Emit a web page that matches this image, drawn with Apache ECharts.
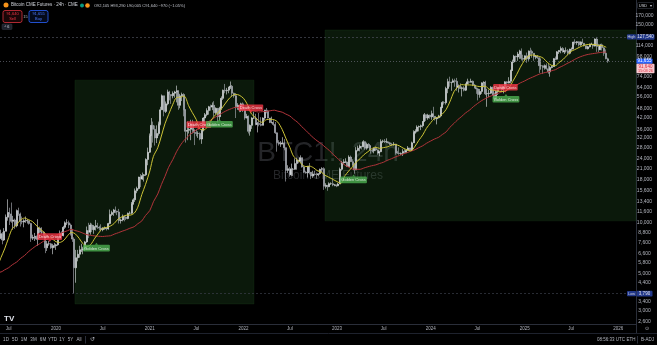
<!DOCTYPE html>
<html><head><meta charset="utf-8">
<script src="https://cdn.jsdelivr.net/npm/echarts@6/dist/echarts.min.js"></script>
<style>html,body{margin:0;padding:0;background:#000;}#c{width:657px;height:345px;}</style>
</head><body><div id="c"></div>
<script>
// ---------- DATA ----------
// weekly bars (week starting Monday 2019-05-27, one entry per week)
const firstWeek = [2019, 4, 27];
const firstOpen = 8100;
const weeklyClose = [
// 2019
8600,7900,8900,10800,11500,11300,10200,10400,9600,11800,11300,10200,10100,10300,10300,10300,9900,8100,8200,8300,8000,9300,8800,8800,8400,7100,7500,7500,7100,7300,7300,7400,
// 2020
8100,8700,8400,9400,10000,10000,9700,8600,8000,5400,6200,6500,6900,6900,7000,7700,9000,8800,9700,9100,9500,9600,9400,9300,9100,9300,9300,9200,9900,11200,11500,11900,11700,11600,10300,10400,10900,10800,10600,11400,11400,13000,13700,15500,16000,18700,18200,19100,19300,23800,26300,33000,
// 2021
38000,36000,32000,34000,38900,47000,57000,46000,51000,60000,58000,57000,59000,60000,61000,50000,57000,58000,47000,35000,35500,36000,39000,35500,34500,34000,34000,31500,35500,42000,44000,46500,49000,48900,50000,45200,48000,42800,48000,55000,61500,61000,61500,64000,65000,59000,57000,49000,50000,47000,51000,47000,
// 2022
42000,43000,35000,38000,42000,42000,38500,39000,38500,38000,42000,46800,46300,42000,39500,39500,38500,34300,30000,29500,29500,29800,28000,20500,21000,19300,20800,20800,22500,23600,23200,24400,21500,20000,19800,21600,20000,19000,19500,19400,19300,19600,20800,21000,16500,16700,16400,17100,17100,16800,16800,16600,
// 2023
17000,20800,22800,23000,23000,21600,24600,23100,22000,20600,26900,27800,28500,28300,30400,27800,29300,28800,26900,26800,27700,27100,26000,26500,30500,30600,30300,30300,29900,29300,29100,29400,26100,26000,25800,25900,26600,26300,27000,27900,26900,29900,34500,35000,37100,37400,37800,40000,44000,42000,43700,42700,
// 2024
44500,43000,41600,42200,43200,48500,52000,51800,63000,69000,68500,68500,70000,69500,64000,65000,63000,63500,61500,67000,69000,68500,69500,66000,63500,62600,58000,60500,68000,68500,58500,58800,59000,64000,57500,54500,60500,63500,65500,62200,63000,69000,67800,69500,80500,90500,98000,97000,101000,105000,95000,94000,98500,
// 2025
94500,105000,104500,102000,97000,97500,96000,86000,86000,84000,86000,82500,79000,84000,85000,94500,94000,104000,106000,109000,104000,105500,105500,102000,108000,108500,119000,118000,119500,114500,119000,117000,113000,108500,111500,115500,115500,112500,124000,112000,107000,114500,110000,102000,94500,91640
];
const weeklyLow = [
// 2019
8000,7450,7800,8900,10300,9700,10000,9100,9200,9400,11000,9500,9800,9400,10000,9900,9750,7700,7900,7800,7900,7300,8700,8600,8300,6600,6800,7300,7000,6500,7100,6900,
// 2020
7300,8100,8300,8300,9200,9700,9300,8400,7700,3790,4400,5900,6200,6700,6500,6800,7600,8100,8500,8800,8600,9000,9200,9000,8900,8900,9100,9000,9100,9800,11000,11000,11400,11100,9900,9900,10200,10200,10400,10500,11200,11300,12800,13300,15000,15800,16300,18000,17600,19000,22000,26000,
// 2021
28000,30000,28800,29800,33000,38000,47000,43000,45000,50000,53500,51000,55000,55500,52000,47000,48000,53000,43000,30000,31000,34000,31000,34000,29000,32700,32000,31000,29500,35000,37500,43000,44000,46500,46800,42800,44000,39600,40800,47000,53800,59000,58000,59000,62500,56000,55500,42000,47000,45500,45600,45600,
// 2022
41000,41800,34000,33000,36200,41500,38000,34500,37500,37500,38000,40800,44800,41800,39200,39000,37800,33800,26500,28800,28300,29300,27000,17600,19800,18800,18900,19000,20700,20700,22600,22700,21300,19800,19600,18600,19400,18200,18500,19100,18300,18900,19300,20000,15700,16000,15500,16300,16800,16500,16500,16300,
// 2023
16500,17000,20400,22300,22700,21500,21500,23000,21800,19600,20600,26600,26600,27300,28300,27200,27200,27900,25800,26300,25900,26700,25400,24900,26300,29800,29800,29900,29500,29000,28600,28800,25400,25700,25400,25300,25000,26000,26000,27300,26600,26900,30000,33900,34500,35000,35600,36900,40000,40300,41000,41600,
// 2024
41000,41600,40600,38500,41800,42400,48100,50500,50500,59000,64500,61000,68000,64500,61000,59600,62500,56500,60500,60800,66600,66600,68500,65000,63000,58500,53500,55500,58500,64000,57500,49000,56000,58400,57000,52600,54600,57600,62600,59800,58900,62600,65500,67500,67500,80000,89500,90800,92000,94500,92500,92000,92000,
// 2025
89500,92000,99000,96000,92000,94000,94500,78000,81500,77000,81500,81500,77000,74000,83000,84500,92800,93500,101000,102000,103000,101000,103000,99000,100500,105000,107500,115000,114500,112000,113000,116500,112000,108000,107500,110500,114500,108500,112000,104000,103500,106500,106000,98500,94000,89500
];
const weeklyHigh = [
// 2019
9100,8800,9300,11200,13800,12300,13200,11000,10600,12000,12300,11500,10900,10500,10900,10500,10300,10000,8500,8700,8400,10500,9500,9400,8900,8500,7800,7800,7600,7500,7600,7500,
// 2020
8400,9000,8900,9600,10200,10500,10300,9900,9200,8200,6900,6900,7300,7500,7200,7800,9500,10000,10000,9900,9700,10400,10000,9600,9800,9400,9500,9400,10000,12000,11800,12100,12500,11800,12100,10600,11200,11000,10900,11500,11700,13300,14000,16000,16400,18800,19500,19900,19500,24200,28000,34000,
// 2021
42000,40000,37900,38000,40000,49000,58000,57000,52700,62000,61000,58000,60500,61000,65500,61500,58500,59500,59000,47500,40000,39000,41000,41000,36000,36000,35000,34500,35700,42500,45000,48000,49600,50500,52000,52900,48600,48200,49000,56500,62000,67000,63500,64500,69300,66000,59500,59000,51500,50000,51800,52000,
// 2022
47500,44500,43500,38500,42500,45800,44500,39800,45000,42500,42400,47000,48200,47000,41500,42800,40800,39800,34500,31000,30600,32300,31500,28000,22000,21500,22500,21200,24200,24400,23700,25200,24400,21800,20400,21800,22700,19900,20400,20400,19900,19700,21000,21400,21400,17200,16800,17400,17400,18400,17000,16900,
// 2023
17300,21300,23300,23900,24200,23200,25200,25100,23900,22600,28200,28800,29200,28700,31000,30500,30000,29800,28000,27500,28000,28400,27300,26800,31400,31200,31500,31800,30400,30300,29900,30200,29500,26800,28100,26200,27400,27400,27400,28600,27900,30400,35500,36000,38000,37900,38400,40300,45000,44000,44500,44000,
// 2024
46500,49000,43200,42500,43900,49000,52900,52900,64500,72000,74000,69000,72000,72000,72800,66500,67500,64700,65000,67500,72000,70000,72000,70200,67000,63800,63500,62500,68500,69500,70000,62700,61800,65000,64500,59500,60700,64000,66500,65000,64400,69500,69500,73500,81500,93500,99800,98700,104000,107000,109000,100000,99000,
// 2025
103000,106000,110000,107000,102000,99500,99500,96500,95000,86500,87500,88800,88500,86000,86500,95500,97500,105000,106500,112000,111000,106500,110500,108000,108500,110500,119500,123500,120500,120000,120000,124500,117500,113000,113000,116500,117900,115500,125000,127540,116000,116000,116500,111000,107500,96000
];
// moving averages, semi-monthly points starting 2019-05-15 (15th, 1st, 15th, ...)
const maFast = [
5350,6220,6990,8180,9240,9720,10370,10670,10450,10190,9700,9150,8810,8250,8080,
7720,7640,7870,8370,8760,8630,8070,7520,7220,7410,8110,8670,9280,9380,9580,9910,10590,10860,11090,11100,11410,12370,14760,16870,
20360,24840,27970,32830,38820,43990,50790,55600,55900,56700,49850,45400,41150,36200,35750,37650,41540,44060,46440,49490,53700,56580,58100,57500,
55050,51000,44400,42550,40500,39600,41110,41260,41010,39690,35890,31910,28040,24920,23580,22410,21590,21740,21260,20450,20000,19180,18630,18130,
17580,17180,19100,20300,21450,22840,24110,25380,26470,27530,28160,27730,28020,28270,28960,29200,28680,27840,27150,26790,28580,30860,33350,36460,
39420,41670,42690,44340,47250,52280,60400,64130,66400,66050,66100,65700,64910,64610,64960,62340,61540,60980,60400,60600,63300,69200,76300,84130,
92900,97850,99650,98700,97500,95250,89600,86600,86100,89900,94100,99150,104650,107150,110450,113100,114850,115200,115100,113650,113100,110750
];
const maSlow = [
5080,5097,5250,5410,5630,5842,6120,6395,6710,7021,7280,7540,7800,8053,8240,
8423,8615,8807,8974,9141,9000,8859,8680,8500,8426,8352,8320,8289,8333,8378,8557,8737,8910,9083,9280,9476,9870,10265,11050,
11835,13340,14848,16870,18887,21370,23846,26455,29065,30980,32896,34250,35602,36840,38083,39700,41330,42700,44076,45460,46850,47760,48674,48456,
48239,47370,46500,46060,45620,45830,46039,46400,46770,46140,45513,44350,43180,41350,39522,37480,35446,33725,32004,30750,29500,28245,26991,25656,
24322,23165,22009,21440,20876,20838,20800,21170,21543,21830,22117,22520,22930,23500,24067,24600,25143,25640,26141,26680,27222,27980,28735,29700,
30676,31480,32280,33515,34750,36917,39083,41037,42991,44956,46922,49067,51213,53020,54826,56175,57524,58535,59900,60900,62009,64048,66087,67952,
69817,71692,73567,75213,76859,77900,78948,80200,81459,83800,86141,88620,91098,93790,96489,98290,100098,100990,101880,102690,103500,103710
];
// cross labels
const crossDates = ['2019-12-08','2020-06-07','2021-07-11','2021-09-29','2022-01-30','2023-03-06','2024-10-18','2024-10-20'];
const crossPrices = [7800, 7500, 36200, 40900, 45600, 19100, 60400, 57600];
const crossNames = ['Death Cross','Golden Cross','Death Cross','Golden Cross','Death Cross','Golden Cross','Death Cross','Golden Cross'];
// shaded zones
const zoneStart = ['2020-03-15','2022-11-15'];
const zoneEnd = ['2022-02-11','2026-03-11'];
const zoneTop = [70600, 140400];
const zoneBottom = [3290, 10270];
// key levels
const highValue = 127540, lowValue = 3790, lastValue = 91640, askValue = 91655;
// axis ticks
const priceTicks = [170000,150000,114000,98000,74000,64000,56000,48000,42000,36000,32000,28000,24000,21000,18000,15600,13400,11600,10000,8800,7600,6600,5800,5000,4400,3400,3000,2600];
const timeTicks = ['2019-07-01','2020-01-01','2020-07-01','2021-01-01','2021-07-01','2022-01-01','2022-07-01','2023-01-01','2023-07-01','2024-01-01','2024-07-01','2025-01-01','2025-07-01','2026-01-01'];
const xRange = ['2019-05-28','2026-03-11'];
const yRange = [2500, 211600];

// ---------- BUILD ----------
const FONT = '"Liberation Sans", Arial, sans-serif';
const ts = s => { const p = s.split('-').map(Number); return new Date(p[0], p[1]-1, p[2]).getTime(); };
const weekDate = i => new Date(firstWeek[0], firstWeek[1], firstWeek[2] + 7*i + 3).getTime();
const candles = weeklyClose.map((c, i) => [weekDate(i), i === 0 ? firstOpen : weeklyClose[i-1], c, weeklyLow[i], weeklyHigh[i]]);
const maDate = k => { const t = k + 9; return new Date(2019, Math.floor(t/2), t % 2 ? 15 : 1).getTime(); };
const fastData = maFast.map((v, k) => [maDate(k), v]);
const slowData = maSlow.map((v, k) => [maDate(k), v]);
const crossData = crossDates.map((d, i) => {
  const death = crossNames[i] === 'Death Cross';
  const col = death ? '#f23645' : '#4caf50';
  return {
    value: [ts(d), crossPrices[i]], name: crossNames[i],
    symbolRotate: death ? 180 : 0,
    itemStyle: { color: col },
    label: { position: death ? 'top' : 'bottom', backgroundColor: col }
  };
});
const zoneAreas = zoneStart.map((s, i) => [
  { xAxis: ts(s), yAxis: zoneTop[i] },
  { xAxis: ts(zoneEnd[i]), yAxis: zoneBottom[i] }
]);

const option = {
  backgroundColor: '#000000',
  animation: false,
  grid: { left: 0, right: 21, top: 0, bottom: 21 },
  xAxis: {
    type: 'time', min: ts(xRange[0]), max: ts(xRange[1]),
    axisLine: { show: true, lineStyle: { color: '#2a2e39', width: 1 } },
    axisTick: { show: false }, axisLabel: { show: false }, splitLine: { show: false }
  },
  yAxis: {
    type: 'log', position: 'right', min: yRange[0], max: yRange[1],
    axisLine: { show: true, lineStyle: { color: '#2a2e39', width: 1 } },
    axisTick: { show: false }, axisLabel: { show: false }, splitLine: { show: false }
  },
  series: [
    {
      type: 'line', z: 1, silent: true, showSymbol: false,
      data: [[ts(zoneStart[0]), zoneBottom[0]]],
      lineStyle: { opacity: 0 },
      markArea: {
        silent: true,
        itemStyle: { color: 'rgba(76,175,80,0.14)', borderColor: 'rgba(76,175,80,0.18)', borderWidth: 0.5 },
        data: zoneAreas
      }
    },
    {
      type: 'candlestick', z: 3, silent: true, barWidth: 1.5,
      data: candles,
      itemStyle: { color: '#e3e5ea', color0: '#b4b7bf', borderColor: '#e3e5ea', borderColor0: '#b4b7bf', borderWidth: 0.6 },
      markLine: {
        silent: true, symbol: 'none', label: { show: false },
        data: [
          { yAxis: highValue, lineStyle: { color: '#4a4e59', type: [2, 2], width: 0.7 } },
          { yAxis: lastValue, lineStyle: { color: '#6a6d78', type: [1, 2], width: 0.7 } },
          { yAxis: lowValue, lineStyle: { color: '#3a3e49', type: [2, 2], width: 0.7 } }
        ]
      }
    },
    {
      type: 'line', z: 4, silent: true, showSymbol: false, smooth: 0.3,
      data: slowData, lineStyle: { color: '#b0343a', width: 1 }
    },
    {
      type: 'line', z: 5, silent: true, showSymbol: false, smooth: 0.3,
      data: fastData, lineStyle: { color: '#cdc437', width: 1 }
    },
    {
      type: 'scatter', z: 8, silent: true, symbol: 'triangle', symbolSize: [3, 2],
      data: crossData,
      label: {
        show: true, formatter: p => p.name, color: '#ffffff', fontSize: 4,
        fontFamily: FONT, padding: [1.6, 1.2, 1, 1.2], borderRadius: 1, distance: 0
      }
    }
  ]
};

const chart = echarts.init(document.getElementById('c'), null, { renderer: 'canvas' });
chart.setOption(option);

const px = v => chart.convertToPixel({ xAxisIndex: 0 }, v);
const py = v => chart.convertToPixel({ yAxisIndex: 0 }, v);
const g = [];
const T = (x, y, text, o = {}) => g.push({
  type: 'text', x, y, z: o.z != null ? o.z : 60, silent: true,
  style: { text, fill: o.fill || '#b2b5be', fontSize: o.size || 5, fontFamily: FONT,
    fontWeight: o.weight || 'normal', align: o.align || 'center', verticalAlign: o.va || 'middle' }
});
const R = (x, y, w, h, o = {}) => g.push({
  type: 'rect', z: o.z != null ? o.z : 55, silent: true,
  shape: { x, y, width: w, height: h, r: o.r || 0 },
  style: { fill: o.fill || 'none', stroke: o.stroke || null, lineWidth: o.lw || 0.8 }
});
const L = (x1, y1, x2, y2, col) => g.push({
  type: 'line', z: 55, silent: true, shape: { x1, y1, x2, y2 }, style: { stroke: col, lineWidth: 1 }
});
const C = (cx, cy, r, fill) => g.push({ type: 'circle', z: 60, silent: true, shape: { cx, cy, r }, style: { fill } });

// watermark
T(328, 153, 'BTC1!, 24h', { size: 28, fill: 'rgba(120,123,134,0.30)', z: 0 });
T(328, 176, 'Bitcoin CME Futures', { size: 12, fill: 'rgba(120,123,134,0.30)', z: 0 });

// header legend
C(6, 5, 2.5, '#f7931a');
T(11, 5.2, 'Bitcoin CME Futures · 24h · CME', { size: 4.5, fill: '#d1d4dc', align: 'left' });
C(82, 5.5, 2, '#089981');
C(87.5, 5.5, 2.3, '#f7931a');
T(94, 5.5, 'O92,105 H93,290 L90,005 C91,640 −970 (−1.05%)', { size: 4, fill: '#c3c6ce', align: 'left' });
R(3, 10.5, 19, 12, { stroke: '#d9323f', fill: 'rgba(242,54,69,0.10)', r: 2, lw: 0.8 });
T(12.5, 14.3, '91,640', { size: 4, fill: '#f23645' });
T(12.5, 19.3, 'Sell', { size: 4, fill: '#f23645' });
T(25.5, 16.5, '15', { size: 4, fill: '#b2b5be' });
R(29, 10.5, 19, 12, { stroke: '#2962ff', fill: 'rgba(41,98,255,0.10)', r: 2, lw: 0.8 });
T(38.5, 14.3, '91,655', { size: 4, fill: '#4d7cff' });
T(38.5, 19.3, 'Buy', { size: 4, fill: '#4d7cff' });
R(2, 24, 10, 5.5, { fill: '#1e222d', stroke: '#363a45', r: 1, lw: 0.5 });
T(7, 26.9, '^ 6', { size: 3.8, fill: '#d1d4dc' });

// top-right currency
R(637.5, 2.5, 16, 6, { stroke: '#363a45', fill: '#000', r: 1, lw: 0.6 });
T(643, 5.6, 'USD', { size: 4, fill: '#d1d4dc' });
T(650.5, 5.6, '▾', { size: 4, fill: '#d1d4dc' });

// price axis labels
priceTicks.forEach(v => T(644.5, py(v), v.toLocaleString('en-US'), { size: 5 }));

// high / low / last labels
const yH = py(highValue), yL = py(lowValue), yP = py(lastValue);
R(627, yH - 2.6, 9, 5.2, { fill: '#22388a', r: 0.8 });
T(631.5, yH, 'High', { size: 3.8, fill: '#d1d4dc' });
R(636.5, yH - 2.8, 18, 5.6, { fill: '#22388a', r: 0.8 });
T(645.5, yH, highValue.toLocaleString('en-US'), { size: 4.5, fill: '#e0e3eb' });
R(627, yL - 2.6, 9, 5.2, { fill: '#22388a', r: 0.8 });
T(631.5, yL, 'Low', { size: 3.8, fill: '#d1d4dc' });
R(636.5, yL - 2.8, 16, 5.6, { fill: '#22388a', r: 0.8 });
T(644.5, yL, lowValue.toLocaleString('en-US'), { size: 4.5, fill: '#e0e3eb' });
R(636.5, yP - 2.6, 16, 5.2, { fill: '#2962ff', r: 0.8 });
T(644.5, yP, askValue.toLocaleString('en-US'), { size: 4.5, fill: '#ffffff' });
R(636.5, yP + 2.6, 18, 9.6, { fill: '#f8c9cf', r: 0.8 });
T(645.5, yP + 5.2, lastValue.toLocaleString('en-US'), { size: 4.5, fill: '#d8293a' });
T(645.5, yP + 9.6, '15:03:26', { size: 3.8, fill: '#d8293a' });

// time axis labels
timeTicks.forEach(d => {
  const t = ts(d); const dt = new Date(t);
  T(px(t), 329, dt.getMonth() === 0 ? String(dt.getFullYear()) : 'Jul', { size: 4.5 });
});
L(636.5, 324, 636.5, 333, '#2a2e39');
L(0, 333.5, 657, 333.5, '#1e222d');
T(647, 329, '⊙', { size: 5, fill: '#b2b5be' });

// tradingview logo
T(4, 318.5, 'TV', { size: 8, weight: 'bold', fill: '#e0e3eb', align: 'left' });

// bottom toolbar
[['1D', 6], ['5D', 15], ['1M', 24], ['3M', 33.5], ['6M', 43], ['YTD', 52.5], ['1Y', 62], ['5Y', 70.5], ['All', 79]]
  .forEach(([s, x]) => T(x, 339.8, s, { size: 4.5, fill: '#b2b5be' }));
L(85.5, 336, 85.5, 343.5, '#2a2e39');
T(92, 339.8, '↺', { size: 6, fill: '#b2b5be' });
T(611, 339.8, '08:56:33 UTC', { size: 4.5, fill: '#b2b5be' });
T(631, 339.8, 'ETH', { size: 4.5, fill: '#b2b5be' });
L(637.5, 336, 637.5, 343.5, '#2a2e39');
T(647.5, 339.8, 'B-ADJ', { size: 4.5, fill: '#b2b5be' });

chart.setOption({ graphic: g });
</script></body></html>
